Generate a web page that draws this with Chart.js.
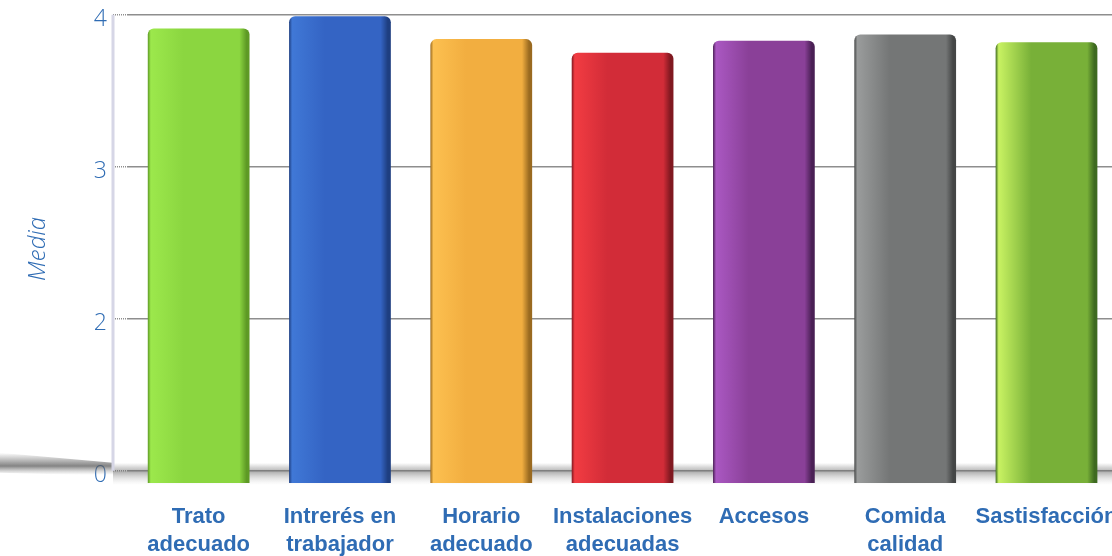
<!DOCTYPE html>
<html>
<head>
<meta charset="utf-8">
<script src="https://cdn.jsdelivr.net/npm/chart.js@4"></script>
<style>
html, body { margin:0; padding:0; background:#fff; overflow:hidden; }
#wrap { position:relative; top:-5px; width:1130px; height:561px; }
</style>
</head>
<body>
<div id="wrap"><canvas id="barChart"></canvas></div>
<script>
var categorias = [["Trato","adecuado"], ["Intrerés en","trabajador"], ["Horario","adecuado"], ["Instalaciones","adecuadas"], "Accesos", ["Comida","calidad"], "Sastisfacción"];
var medias = [3.91, 3.99, 3.84, 3.75, 3.83, 3.87, 3.82];
var marcasY = [1, 2, 3, 4];
var etiquetasY = ["0", "2", "3", "4"];

// light, base, dark per bar
var tonos = [
  ["#9ce84c", "#8bd640", "#5e9a25"],
  ["#4078d6", "#3464c4", "#1e3e80"],
  ["#fcc050", "#f2ae40", "#9a6a20"],
  ["#f23c42", "#d22c38", "#801820"],
  ["#aa58c2", "#8a4098", "#4a2055"],
  ["#9a9c9c", "#747676", "#444646"],
  ["#c8f262", "#78b038", "#3e6a20"]
];
var azul = "#2f6cb4";

function degradado(ctx) {
  var chart = ctx.chart, i = ctx.dataIndex, t = tonos[i];
  var xs = chart.scales.x;
  if (!xs || xs.left === undefined || isNaN(xs.getPixelForValue(i))) return t[1];
  var cx = xs.getPixelForValue(i);
  var w = (xs.width / categorias.length) * 0.72;
  var g = chart.ctx.createLinearGradient(cx - w / 2, 0, cx + w / 2, 0);
  g.addColorStop(0, t[2]);
  g.addColorStop(0.03, t[0]);
  g.addColorStop(0.35, t[1]);
  g.addColorStop(0.9, t[1]);
  g.addColorStop(0.97, t[2]);
  g.addColorStop(1, t[2]);
  return g;
}

var suelo = {
  id: 'suelo',
  beforeDatasetsDraw: function (chart) {
    var c = chart.ctx, a = chart.chartArea;
    var y0 = chart.scales.y.getPixelForValue(1);
    c.save();
    // floor band behind the bars
    var g = c.createLinearGradient(0, y0 - 8, 0, a.bottom + 2);
    g.addColorStop(0, 'rgba(110,110,110,0)');
    g.addColorStop(0.4, 'rgba(110,110,110,0.55)');
    g.addColorStop(1, 'rgba(200,200,200,0)');
    c.fillStyle = g;
    c.fillRect(a.left - 15, y0 - 8, 1130, a.bottom - y0 + 10);
    // left floor edge
    var h = c.createLinearGradient(0, y0 - 18, 0, y0 + 4);
    h.addColorStop(0, 'rgba(90,90,90,0)');
    h.addColorStop(0.6, 'rgba(90,90,90,0.75)');
    h.addColorStop(1, 'rgba(150,150,150,0)');
    c.fillStyle = h;
    c.beginPath();
    c.moveTo(0, y0 - 18);
    c.lineTo(a.left - 15, y0 - 8);
    c.lineTo(a.left - 15, y0 + 5);
    c.lineTo(0, y0 + 2);
    c.closePath();
    c.fill();
    // left wall line
    c.strokeStyle = '#d6d6e6';
    c.lineWidth = 3;
    c.beginPath();
    c.moveTo(a.left - 15, a.top);
    c.lineTo(a.left - 15, y0);
    c.stroke();
    c.restore();
  }
};

var ctx = document.getElementById('barChart').getContext('2d');
var chart = new Chart(ctx, {
    type: 'bar',
    data: {
        labels: categorias,
        datasets: [{
            label: 'Media',
            data: medias,
            backgroundColor: degradado,
            borderRadius: 6,
            borderSkipped: false,
            barPercentage: 0.72,
            categoryPercentage: 1
        }]
    },
    plugins: [suelo],
    options: {
        responsive: true,
        maintainAspectRatio: false,
        animation: false,
        layout: { padding: { top: 0, right: 8, bottom: 0, left: 0 } },
        plugins: { legend: { display: false }, tooltip: { enabled: false } },
        scales: {
            x: {
                afterFit: function (s) { s.height = 73; },
                grid: { display: false },
                border: { display: false },
                ticks: {
                    color: azul,
                    padding: 12,
                    maxRotation: 0,
                    autoSkip: false,
                    font: { family: "'Liberation Sans Narrow', 'Liberation Sans', sans-serif", size: 22, weight: 'bold', lineHeight: 1.27 }
                }
            },
            y: {
                min: 0.92,
                max: 4,
                afterFit: function (s) { s.width = 128; },
                afterBuildTicks: function (s) { s.ticks = marcasY.map(function (v) { return { value: v }; }); },
                border: { display: false },
                grid: {
                    color: '#8e8e8e',
                    lineWidth: 1.5,
                    tickLength: 15,
                    tickBorderDash: [1, 1],
                    borderDash: [1, 1]
                },
                ticks: {
                    color: azul,
                    padding: 6,
                    labelOffset: 5,
                    font: { family: "'Open Sans', sans-serif", size: 23, weight: '300' },
                    callback: function (v) { return etiquetasY[marcasY.indexOf(v)]; }
                },
                title: {
                    display: true,
                    text: 'Media',
                    color: azul,
                    padding: { top: 24, bottom: 0 },
                    font: { family: "'Open Sans', sans-serif", size: 24, style: 'italic', weight: '300' }
                }
            }
        }
    }
});
</script>
</body>
</html>
